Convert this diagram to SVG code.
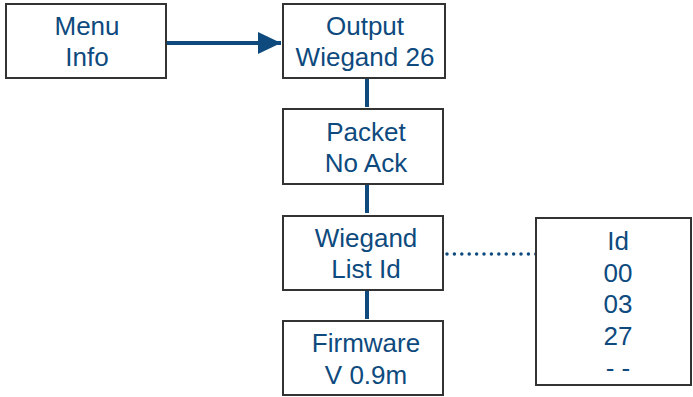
<svg xmlns="http://www.w3.org/2000/svg" width="693" height="397" viewBox="0 0 693 397">
  <style>
    .box { fill: #ffffff; stroke: #333333; stroke-width: 2; }
    .lbl { font-family: "Liberation Sans", Arial, sans-serif; font-size: 26px; fill: #0E4A7E; text-anchor: middle; }
    .link { stroke: #0E4A7E; stroke-width: 4; fill: none; }
    .dots { stroke: #0E4A7E; stroke-width: 3.5; stroke-linecap: round; stroke-dasharray: 0 7.4; fill: none; }
  </style>
  <defs>
    <marker id="arrow" viewBox="0 0 24 24" refX="23" refY="12" markerWidth="24" markerHeight="24" markerUnits="userSpaceOnUse" orient="auto">
      <path d="M0,1 L23,12 L0,23 Z" fill="#0E4A7E"/>
    </marker>
  </defs>

  <g id="connectors">
    <line class="link" x1="167" y1="43" x2="281" y2="43" marker-end="url(#arrow)"/>
    <line class="link" x1="367" y1="78" x2="367" y2="107"/>
    <line class="link" x1="367" y1="184" x2="367" y2="213"/>
    <line class="link" x1="367" y1="290" x2="367" y2="319"/>
    <line class="dots" x1="447" y1="254" x2="536" y2="254"/>
  </g>

  <g id="menu-info">
    <rect class="box" x="6" y="4" width="160" height="74"/>
    <text class="lbl" x="87" y="35">Menu</text>
    <text class="lbl" x="87" y="66">Info</text>
  </g>

  <g id="output">
    <rect class="box" x="283" y="4" width="162" height="74"/>
    <text class="lbl" x="365" y="35">Output</text>
    <text class="lbl" x="365" y="66">Wiegand 26</text>
  </g>

  <g id="packet">
    <rect class="box" x="283" y="109" width="160" height="75"/>
    <text class="lbl" x="366" y="141">Packet</text>
    <text class="lbl" x="366" y="172">No Ack</text>
  </g>

  <g id="wiegand-list">
    <rect class="box" x="283" y="216" width="160" height="74"/>
    <text class="lbl" x="366" y="247">Wiegand</text>
    <text class="lbl" x="366" y="278">List Id</text>
  </g>

  <g id="firmware">
    <rect class="box" x="283" y="321" width="160" height="74"/>
    <text class="lbl" x="366" y="352">Firmware</text>
    <text class="lbl" x="366" y="384">V 0.9m</text>
  </g>

  <g id="id-list">
    <rect class="box" x="536" y="218" width="155" height="167"/>
    <text class="lbl" x="618" y="250">Id</text>
    <text class="lbl" x="618" y="282">00</text>
    <text class="lbl" x="618" y="313">03</text>
    <text class="lbl" x="618" y="345">27</text>
    <text class="lbl" x="618" y="377">- -</text>
  </g>
</svg>
